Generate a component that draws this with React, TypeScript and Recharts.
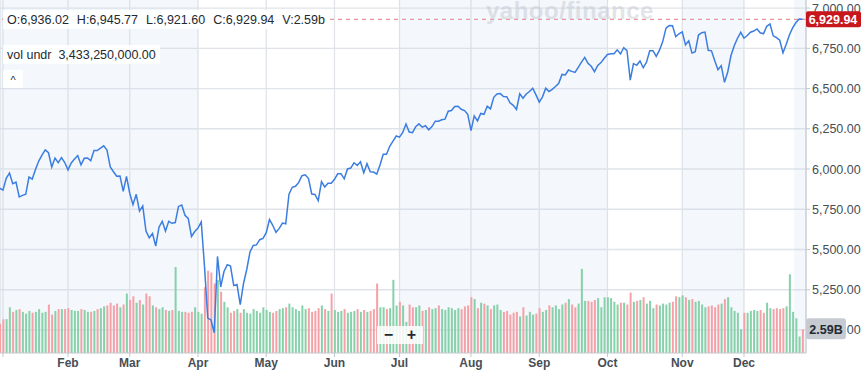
import {
  ComposedChart,
  Line,
  Bar,
  Cell,
  XAxis,
  YAxis,
  CartesianGrid,
  ReferenceArea,
  ReferenceLine,
} from "recharts";

document.body.style.margin = "0";

// S&P 500 daily closes, Dec 31 2024 .. Dec 26 2025
const prevClose = 5906.94;
const closes = [
  // Dec 31
  5881.63,
  // Jan
  5868.55, 5942.47, 5975.38, 5909.03, 5918.25, 5827.04, 5836.22, 5842.91, 5949.91, 5937.34,
  5996.66, 6049.24, 6086.37, 6118.71, 6101.24, 6012.28, 6067.7, 6039.31, 6071.17, 6040.53,
  // Feb
  5994.57, 6037.88, 6061.48, 6083.57, 6025.99, 6066.44, 6068.5, 6051.97, 6115.07, 6114.63,
  6129.58, 6144.15, 6117.52, 6013.13, 5983.25, 5955.25, 5956.06, 5861.57, 5954.5,
  // Mar
  5849.72, 5778.15, 5842.63, 5738.52, 5770.2, 5614.56, 5572.07, 5599.3, 5521.52, 5638.94,
  5675.12, 5614.66, 5675.29, 5662.89, 5667.56, 5767.57, 5776.65, 5712.2, 5693.31, 5580.94, 5611.85,
  // Apr
  5633.07, 5670.97, 5396.52, 5074.08, 5062.25, 4982.77, 5456.9, 5268.05, 5363.36, 5405.97,
  5396.63, 5275.7, 5282.7, 5158.2, 5287.76, 5375.86, 5484.77, 5525.21, 5528.75, 5560.83, 5569.06,
  // May
  5604.14, 5686.67, 5650.38, 5606.91, 5631.28, 5663.94, 5659.91, 5844.19, 5886.55, 5892.58,
  5916.93, 5958.38, 5963.6, 5940.46, 5844.61, 5842.01, 5802.82, 5921.54, 5888.55, 5912.17, 5911.69,
  // Jun
  5935.94, 5970.37, 5970.81, 5939.3, 6000.36, 6005.88, 6038.81, 6022.24, 6045.26, 5976.97,
  6033.11, 5982.72, 5980.87, 5967.84, 6025.17, 6092.18, 6092.16, 6141.02, 6173.07, 6204.95,
  // Jul
  6198.01, 6227.42, 6279.35, 6229.98, 6225.52, 6263.26, 6280.46, 6259.75, 6268.56, 6243.76,
  6263.7, 6297.36, 6296.79, 6305.6, 6309.62, 6358.91, 6363.35, 6388.64, 6389.77, 6370.86, 6362.9, 6339.39,
  // Aug
  6238.01, 6329.94, 6299.19, 6345.06, 6340.0, 6389.45, 6373.45, 6445.76, 6466.58, 6468.54,
  6449.8, 6449.15, 6411.37, 6395.78, 6370.17, 6466.91, 6439.32, 6465.94, 6481.4, 6501.86, 6460.26,
  // Sep
  6415.54, 6448.26, 6502.08, 6481.5, 6495.15, 6512.61, 6532.04, 6587.47, 6584.29, 6615.28,
  6606.76, 6600.35, 6631.96, 6664.36, 6693.75, 6656.92, 6637.97, 6604.72, 6643.7, 6661.21, 6688.46,
  // Oct
  6711.2, 6715.35, 6715.79, 6740.28, 6714.59, 6753.72, 6735.11, 6552.51, 6654.72, 6644.31,
  6671.06, 6629.07, 6664.01, 6735.13, 6735.35, 6699.4, 6738.44, 6791.69, 6875.16, 6890.89,
  6890.59, 6822.34, 6840.2,
  // Nov
  6851.97, 6771.55, 6796.29, 6720.32, 6728.8, 6832.43, 6846.61, 6850.92, 6737.49, 6734.11,
  6672.41, 6617.32, 6642.16, 6538.76, 6602.99, 6705.12, 6765.88, 6812.61, 6849.09,
  // Dec
  6812.63, 6829.37, 6849.72, 6857.12, 6870.4, 6846.51, 6840.51, 6886.68, 6901.0, 6827.41,
  6816.51, 6800.26, 6721.43, 6774.76, 6834.5, 6878.49, 6909.79, 6932.05, 6929.94,
];

// daily volume, billions
const volumes = [
  3.2,
  3.7, 3.7, 5.0, 4.5, 4.7, 4.8, 4.5, 4.3, 4.6, 4.4, 4.5, 4.8, 4.4, 4.5, 5.3, 4.2, 4.6, 4.8, 4.8, 4.8,
  4.9, 4.7, 4.6, 4.6, 4.8, 4.7, 4.5, 4.5, 4.6, 4.8, 4.9, 5.1, 5.2, 5.5, 5.2, 5.4, 5.0, 5.3, 6.5,
  5.8, 6.2, 5.5, 5.8, 5.3, 6.5, 6.2, 5.2, 5.0, 4.8, 5.0, 4.7, 4.6, 4.7, 9.4, 4.6, 4.5, 4.5, 4.4, 4.5, 5.0,
  4.5, 4.3, 7.2, 9.0, 8.8, 7.6, 8.0, 6.7, 5.6, 5.0, 4.4, 4.6, 4.8, 4.4, 4.8, 4.4, 4.3, 4.8, 4.6, 4.4, 5.0,
  4.7, 4.5, 4.4, 4.6, 4.8, 4.9, 5.0, 5.4, 5.0, 4.8, 4.6, 5.2, 4.8, 4.9, 4.5, 4.6, 4.9, 5.2, 4.8, 4.6, 6.5,
  4.7, 4.5, 4.6, 4.8, 4.4, 4.5, 4.6, 4.8, 4.5, 4.7, 4.5, 4.6, 4.8, 7.6, 5.0, 5.0, 4.8, 4.9, 8.0, 5.2,
  5.6, 5.2, 3.4, 5.3, 5.0, 5.0, 5.2, 4.6, 4.7, 5.0, 4.8, 4.9, 5.2, 4.8, 4.7, 5.0, 4.9, 4.7, 4.9, 4.8, 5.1, 5.2,
  6.1, 5.9, 4.9, 5.5, 5.4, 5.2, 4.8, 5.2, 5.3, 4.7, 4.5, 4.6, 4.2, 4.4, 4.5, 4.0, 5.0, 4.1, 4.5, 4.2, 4.3,
  4.9, 4.5, 4.7, 5.2, 5.0, 5.2, 4.8, 5.3, 5.5, 5.9, 5.3, 5.0, 5.4, 9.2, 5.7, 5.7, 5.6, 5.8, 6.0, 5.0, 6.1,
  6.1, 6.0, 5.6, 5.3, 5.5, 5.5, 5.3, 6.6, 5.6, 5.7, 5.8, 6.1, 5.4, 5.7, 4.9, 5.3, 5.2, 5.4, 5.3, 5.5, 5.6, 6.2, 6.1,
  6.3, 6.1, 5.8, 5.9, 5.6, 5.7, 5.3, 5.0, 5.1, 5.2, 5.0, 5.3, 5.4, 5.9, 6.1, 5.0, 4.6, 4.4, 2.6,
  4.4, 4.4, 4.6, 4.7, 4.6, 4.7, 4.4, 5.5, 4.9, 4.8, 4.9, 4.8, 4.9, 5.1, 8.6, 4.5, 3.8, 1.8, 2.59,
];

const monthLabels = ["", "Feb", "Mar", "Apr", "May", "Jun", "Jul", "Aug", "Sep", "Oct", "Nov", "Dec"];
const monthDays = [20, 19, 21, 21, 21, 20, 22, 21, 21, 23, 19, 19];
const priceTicks = [5000, 5250, 5500, 5750, 6000, 6250, 6500, 6750, 7000];

const header = ["O:6,936.02", "H:6,945.77", "L:6,921.60", "C:6,929.94", "V:2.59b"];
const volUnder = "3,433,250,000.00";

// month start indexes (Jan 2 = 0)
const monthTicks = monthDays.reduce<number[]>(
  (acc, d, k) => (k === 0 ? [0] : [...acc, acc[k - 1] + monthDays[k - 1]]),
  []
);

const W = 862;
const H = 372;
const AXIS_W = 56;
const PLOT_RIGHT = W - AXIS_W;

const X_MIN = -0.92;
const X_MAX = 247.08;
const PRICE_DOMAIN = [4857, 7050];
const VOL_DOMAIN = [0, 38.6];

// shaded background bands (in trading-day index)
const bands: [number, number][] = [
  [X_MIN, monthTicks[3]],
  [monthTicks[6], monthTicks[9]],
  [monthTicks[10], monthTicks[11]],
  [243.4, X_MAX],
];

// first entry is Dec 31 2024, drawn at index -1
const rows = closes.map((c, k) => ({
  i: k - 1,
  c,
  v: volumes[k],
  up: c >= (k === 0 ? prevClose : closes[k - 1]),
}));

const lastClose = closes[closes.length - 1];
const lastVol = volumes[volumes.length - 1];

const FONT = "'Liberation Sans', Arial, sans-serif";
const fmt2 = (n: number) =>
  n.toLocaleString("en-US", { minimumFractionDigits: 2, maximumFractionDigits: 2 });

// price axis tick: normal label, or the red last-close tag (drawn last, on top)
const PriceTick = (props: any) => {
  const { x, y, payload } = props;
  if (payload.value === lastClose) {
    return (
      <g>
        <rect x={PLOT_RIGHT} y={y - 8} width={55} height={16} rx={2} fill="#c8161d" />
        <text x={PLOT_RIGHT + 27} y={y} dy="0.36em" textAnchor="middle" fill="#fff" fontSize={12.5} fontWeight={700} fontFamily={FONT}>
          {fmt2(lastClose)}
        </text>
      </g>
    );
  }
  return (
    <text x={x} y={y} dy="0.36em" textAnchor="start" fill="#464e56" fontSize={12.5} fontFamily={FONT}>
      {fmt2(payload.value)}
    </text>
  );
};

// volume axis tick: grey last-volume tag
const VolTick = (props: any) => {
  const { y } = props;
  return (
    <g>
      <rect x={PLOT_RIGHT} y={y - 11} width={40} height={21} rx={3} fill="#c6cbd1" />
      <text x={PLOT_RIGHT + 20} y={y} dy="0.34em" textAnchor="middle" fill="#232a31" fontSize={12.5} fontWeight={700} fontFamily={FONT}>
        {lastVol.toFixed(2)}B
      </text>
    </g>
  );
};

const boxStyle = {
  position: "absolute" as const,
  left: 3,
  height: 19,
  padding: "0 4px",
  display: "flex",
  alignItems: "center",
  background: "rgba(255,255,255,0.9)",
  fontSize: 12.5,
  color: "#232a31",
  whiteSpace: "pre" as const,
};

const App = () => {
  return (
    <div style={{ position: "relative", width: W, height: H, background: "#fff", fontFamily: FONT }}>
      <ComposedChart width={W} height={H} data={rows} margin={{ top: 0, right: 0, left: 0, bottom: 0 }}>
        {bands.map(([a, b], k) => (
          <ReferenceArea key={k} yAxisId="p" x1={a} x2={b} fill="#c9d8ea" fillOpacity={0.2} stroke="none" ifOverflow="hidden" />
        ))}
        <CartesianGrid yAxisId="p" stroke="#e0e4e9" strokeWidth={1.3} horizontalValues={priceTicks} />
        <XAxis
          dataKey="i"
          type="number"
          domain={[X_MIN, X_MAX]}
          allowDataOverflow
          ticks={monthTicks}
          interval={0}
          tickFormatter={(v: number) => monthLabels[monthTicks.indexOf(v)] ?? ""}
          height={19}
          tickSize={4}
          tickMargin={1}
          stroke="#c4c9cf"
          tick={{ fill: "#464e56", fontSize: 12, fontWeight: 700, fontFamily: FONT }}
        />
        <YAxis
          yAxisId="p"
          orientation="right"
          domain={PRICE_DOMAIN}
          allowDataOverflow
          ticks={[...priceTicks, lastClose]}
          interval={0}
          width={AXIS_W - 1}
          tickSize={4}
          tickMargin={2}
          stroke="#c4c9cf"
          tick={<PriceTick />}
        />
        <YAxis
          yAxisId="v"
          orientation="right"
          domain={VOL_DOMAIN}
          allowDataOverflow
          ticks={[lastVol]}
          interval={0}
          width={1}
          axisLine={false}
          tickLine={false}
          tick={<VolTick />}
        />
        <Bar yAxisId="v" dataKey="v" barSize={2} isAnimationActive={false}>
          {rows.map((r) => (
            <Cell key={r.i} fill={r.up ? "#86d1a9" : "#f4a2a8"} />
          ))}
        </Bar>
        <ReferenceLine yAxisId="p" y={lastClose} stroke="#e3999b" strokeDasharray="4 4" strokeWidth={1.2} />
        <Line
          yAxisId="p"
          dataKey="c"
          type="linear"
          stroke="#3b7de0"
          strokeWidth={1.5}
          dot={false}
          activeDot={false}
          isAnimationActive={false}
        />
      </ComposedChart>

      {/* watermark */}
      <div
        style={{
          position: "absolute",
          left: 486,
          top: -3,
          fontSize: 24,
          fontWeight: 700,
          color: "rgba(190,196,204,0.45)",
          letterSpacing: 0.5,
          pointerEvents: "none",
        }}
      >
        yahoo/finance
      </div>

      {/* OHLC header */}
      <div style={{ ...boxStyle, top: 10 }}>
        {header.map((h, k) => (
          <span key={k} style={{ marginRight: k < header.length - 1 ? 8 : 0 }}>
            {h}
          </span>
        ))}
      </div>
      <div style={{ ...boxStyle, top: 45 }}>{"vol undr  " + volUnder}</div>
      <div
        style={{
          position: "absolute",
          left: 3,
          top: 70,
          width: 20,
          height: 18,
          background: "rgba(255,255,255,0.9)",
          fontSize: 11,
          color: "#232a31",
          textAlign: "center",
          lineHeight: "20px",
        }}
      >
        ^
      </div>

      {/* zoom control */}
      <div
        style={{
          position: "absolute",
          left: 377,
          top: 326,
          width: 46,
          height: 18,
          background: "rgba(255,255,255,0.85)",
          display: "flex",
          justifyContent: "space-around",
          alignItems: "center",
          fontSize: 16,
          fontWeight: 700,
          color: "#232a31",
        }}
      >
        <span>−</span>
        <span>+</span>
      </div>
    </div>
  );
};

export default App;
